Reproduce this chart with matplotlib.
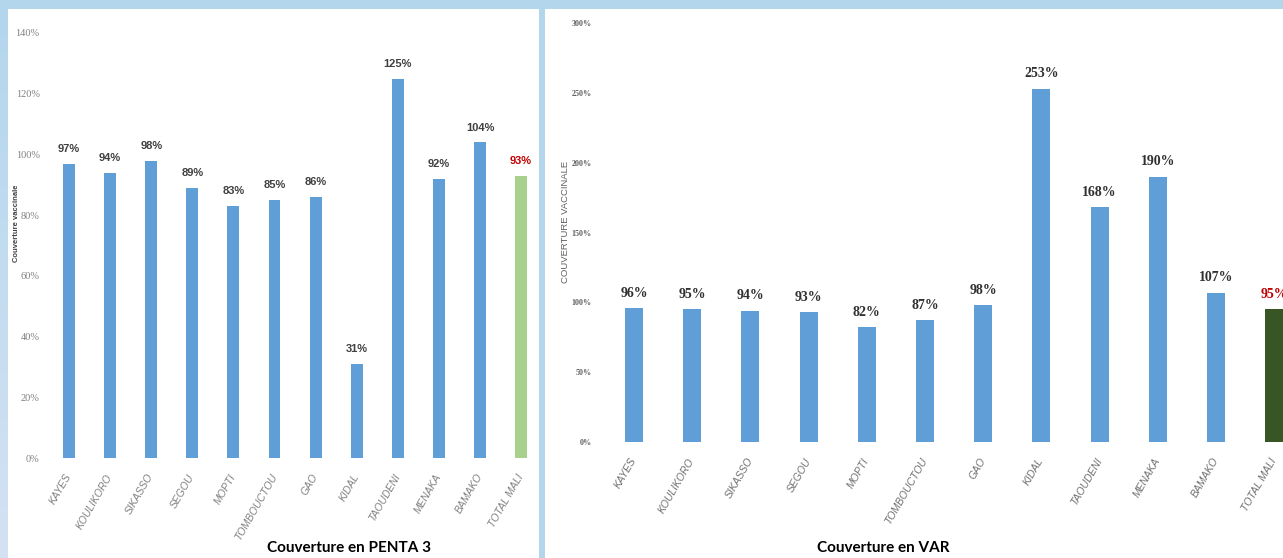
import matplotlib
matplotlib.use("Agg")
import matplotlib.pyplot as plt
from matplotlib.patches import Rectangle
import numpy as np

categories = ["KAYES", "KOULIKORO", "SIKASSO", "SEGOU", "MOPTI", "TOMBOUCTOU",
              "GAO", "KIDAL", "TAOUDENI", "MENAKA", "BAMAKO", "TOTAL MALI"]
penta3 = [97, 94, 98, 89, 83, 85, 86, 31, 125, 92, 104, 93]
var = [96, 95, 94, 93, 82, 87, 98, 253, 168, 190, 107, 95]
penta_ticks = [0, 20, 40, 60, 80, 100, 120, 140]
var_ticks = [0, 50, 100, 150, 200, 250, 300]

W, H = 1283, 558
fig = plt.figure(figsize=(W / 100, H / 100), dpi=100)
fig.patch.set_facecolor("#b3d6ec")

def fx(px):
    return px / W

def fy(py):
    return 1 - py / H

# left strip gradient
gax = fig.add_axes([0, 0, fx(8), 1], zorder=-20)
grad = np.linspace(0, 1, 256).reshape(-1, 1)
c1 = np.array(matplotlib.colors.to_rgb("#b3d6ec"))
c2 = np.array(matplotlib.colors.to_rgb("#d4e2f3"))
img = c1[None, None, :] * (1 - grad[:, :, None]) + c2[None, None, :] * grad[:, :, None]
gax.imshow(img, aspect="auto", extent=[0, 1, 0, 1], origin="upper")
gax.axis("off")

# white panels
fig.patches.append(Rectangle((fx(8), 0), fx(539) - fx(8), fy(9), transform=fig.transFigure,
                             facecolor="white", edgecolor="none", zorder=-10))
fig.patches.append(Rectangle((fx(545), 0), 1 - fx(545), fy(9), transform=fig.transFigure,
                             facecolor="white", edgecolor="none", zorder=-10))

blue = "#5f9ed7"
x = np.arange(len(categories))

# ---------- Left chart: PENTA 3 ----------
ax1 = fig.add_axes([fx(48), fy(458), fx(540) - fx(48), fy(33) - fy(458)])
ax1.set_facecolor("none")
colors1 = [blue] * (len(categories) - 1) + ["#a9d18e"]
ax1.bar(x, penta3, width=0.29, color=colors1)
ax1.set_xlim(-0.511, 11.46)
ax1.set_ylim(0, 140)
ax1.set_yticks(penta_ticks)
ax1.set_yticklabels([f"{t}%" for t in penta_ticks], family="Liberation Serif",
                    fontsize=7.5, color="#808080")
ax1.set_xticks(x)
ax1.set_xticklabels(categories, rotation=60, ha="right", va="center", rotation_mode="anchor",
                    fontsize=7.5, style="italic", color="#808080",
                    family=["Liberation Sans Narrow", "Liberation Sans"])
ax1.tick_params(axis="both", length=0)
ax1.tick_params(axis="y", pad=6)
ax1.tick_params(axis="x", pad=12)
for s in ax1.spines.values():
    s.set_visible(False)
for i, v in enumerate(penta3):
    col = "#c00000" if i == len(categories) - 1 else "#404040"
    ax1.annotate(f"{v}%", (i, v), xytext=(0, 7), textcoords="offset points",
                 ha="center", va="bottom", fontsize=8, fontweight="bold", color=col,
                 family=["Liberation Sans Narrow", "Liberation Sans"])
fig.text(fx(17), fy(223), "Couverture vaccinale", rotation=90, ha="center", va="center",
         fontsize=5.5, fontweight="bold", color="#404040", family="Liberation Sans")
fig.text(fx(349), fy(548), "Couverture en PENTA 3", ha="center", va="center",
         fontsize=11, fontweight="bold", color="black", family="Lato")

# ---------- Right chart: VAR ----------
ax2 = fig.add_axes([fx(600), fy(442), 1 - fx(600), fy(23) - fy(442)])
ax2.set_facecolor("none")
colors2 = [blue] * (len(categories) - 1) + ["#375623"]
ax2.bar(x, var, width=0.31, color=colors2)
ax2.set_xlim(-0.584, 11.15)
ax2.set_ylim(0, 300)
ax2.set_yticks(var_ticks)
ax2.set_yticklabels([f"{t}%" for t in var_ticks], family="Liberation Serif",
                    fontsize=5.8, fontweight="bold", color="#606060")
ax2.set_xticks(x)
ax2.set_xticklabels(categories, rotation=60, ha="right", va="center", rotation_mode="anchor",
                    fontsize=7.5, style="italic", color="#707070", family="Liberation Sans")
ax2.tick_params(axis="both", length=0)
ax2.tick_params(axis="y", pad=6)
ax2.tick_params(axis="x", pad=12)
for s in ax2.spines.values():
    s.set_visible(False)
for i, v in enumerate(var):
    col = "#c00000" if i == len(categories) - 1 else "#303030"
    ax2.annotate(f"{v}%", (i, v), xytext=(0, 6), textcoords="offset points",
                 ha="center", va="bottom", fontsize=10, fontweight="bold", color=col,
                 family="Liberation Serif", annotation_clip=False)
fig.text(fx(566), fy(222), "COUVERTURE VACCINALE", rotation=90, ha="center", va="center",
         fontsize=6.8, color="#606060", family="Liberation Sans")
fig.text(fx(883), fy(548), "Couverture en VAR", ha="center", va="center",
         fontsize=11, fontweight="bold", color="black", family="Lato")

fig.savefig("out.png", dpi=100, facecolor=fig.get_facecolor())
